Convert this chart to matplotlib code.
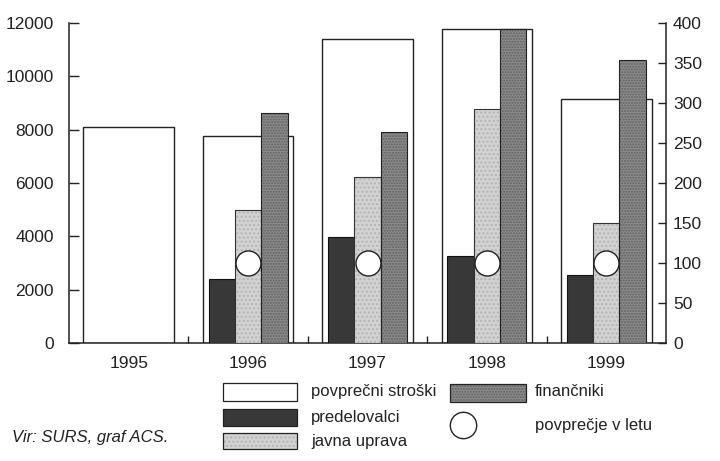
import numpy as np
import matplotlib
matplotlib.use("Agg")
import matplotlib.pyplot as plt
from matplotlib import font_manager
from matplotlib.patches import Rectangle
from matplotlib.lines import Line2D

# ---- data ----
years = ["1995", "1996", "1997", "1998", "1999"]
povprecni_stroski = [8100, 7750, 11400, 11780, 9150]
predelovalci = [np.nan, 80, 132, 109, 85]
javna_uprava = [np.nan, 166, 207, 293, 150]
financniki = [np.nan, 288, 264, 392, 354]
povprecje_v_letu = [np.nan, 100, 100, 100, 100]
left_ticks = [0, 2000, 4000, 6000, 8000, 10000, 12000]
right_ticks = [0, 50, 100, 150, 200, 250, 300, 350, 400]

# ---- font ----
fam = "DejaVu Sans"
narrow = False
for cand in ["Liberation Sans Narrow", "Liberation Sans"]:
    try:
        font_manager.findfont(cand, fallback_to_default=False)
        fam = cand
        narrow = cand.endswith("Narrow")
        break
    except Exception:
        pass
plt.rcParams["font.family"] = [fam, "DejaVu Sans"]
fs = 15 if narrow else 12.5
fs_leg = 14 if narrow else 12

fig = plt.figure(figsize=(7.2, 4.61), dpi=100)
ax = fig.add_axes([69 / 720, 1 - 343 / 461, (666 - 69) / 720, (343 - 23) / 461])
ax2 = ax.twinx()

x = np.arange(len(years))
wb = 0.76
wc = 0.22

ax.bar(x, povprecni_stroski, width=wb, color="white", edgecolor="#222222", linewidth=1.0, zorder=2)

ax2.bar(x - wc, predelovalci, width=wc, color="#383838", edgecolor="#111111", linewidth=0.8, zorder=2)
ax2.bar(x, javna_uprava, width=wc, color="#d2d2d2", edgecolor="#b4b4b4", linewidth=0.0,
        hatch="....", zorder=2)
ax2.bar(x, javna_uprava, width=wc, color="none", edgecolor="#333333", linewidth=0.8, zorder=2.1)
ax2.bar(x + wc, financniki, width=wc, color="#8c8c8c", edgecolor="#606060", linewidth=0.0,
        hatch="......", zorder=2)
ax2.bar(x + wc, financniki, width=wc, color="none", edgecolor="#222222", linewidth=0.8, zorder=2.1)
ax2.plot(x, povprecje_v_letu, linestyle="none", marker="o", markersize=18,
         markerfacecolor="white", markeredgecolor="#222222", markeredgewidth=1.0, zorder=3)

ax.set_xlim(-0.5, 4.5)
ax.set_ylim(0, 12000)
ax2.set_ylim(0, 400)
ax.set_yticks(left_ticks)
ax.set_yticklabels([str(v) for v in left_ticks])
ax2.set_yticks(right_ticks)
ax2.set_yticklabels([str(v) for v in right_ticks])
ax.set_xticks(x)
ax.set_xticklabels(years)
ax.set_xticks(x[:-1] + 0.5, minor=True)

for a in (ax, ax2):
    a.spines["top"].set_visible(False)
    for s in a.spines.values():
        s.set_linewidth(1.1)
        s.set_color("#222222")
ax.spines["right"].set_visible(False)
ax2.spines["left"].set_visible(False)
ax2.spines["bottom"].set_visible(False)

ax.tick_params(axis="y", direction="in", length=7, width=1.0, pad=11, labelsize=fs, colors="#222222")
ax.tick_params(axis="x", which="major", length=0, pad=9, labelsize=fs, colors="#222222")
ax.tick_params(axis="x", which="minor", direction="in", length=5, width=1.0, colors="#222222")
ax2.tick_params(axis="y", direction="in", length=6, width=1.0, pad=5, labelsize=fs, colors="#222222")

# ---- legend (manual) ----
def fx(px):
    return px / 720

def fy(py):
    return 1 - py / 461

def box(x0, x1, y0, y1, fc, ec="#222222", hatch=None, lw=0.9):
    r = Rectangle((fx(x0), fy(y1)), fx(x1) - fx(x0), fy(y0) - fy(y1), transform=fig.transFigure,
                  facecolor=fc, edgecolor=ec, linewidth=lw, hatch=hatch)
    fig.add_artist(r)

box(223, 297, 383, 401, "white")
box(223, 297, 409, 426, "#383838")
box(223, 297, 433, 449, "#d2d2d2", ec="#b4b4b4", hatch="....", lw=0)
box(223, 297, 433, 449, "none")
box(450, 526, 384, 402, "#8c8c8c", ec="#606060", hatch="......", lw=0)
box(450, 526, 384, 402, "none")
fig.add_artist(Line2D([fx(463)], [fy(425)], transform=fig.transFigure, linestyle="none", marker="o",
                      markersize=19, markerfacecolor="white", markeredgecolor="#222222",
                      markeredgewidth=1.0))

tkw = dict(fontsize=fs_leg, va="center", ha="left", color="#222222")
fig.text(fx(311), fy(391), "povprečni stroški", **tkw)
fig.text(fx(311), fy(417), "predelovalci", **tkw)
fig.text(fx(311), fy(441), "javna uprava", **tkw)
fig.text(fx(535), fy(391), "finančniki", **tkw)
fig.text(fx(535), fy(425), "povprečje v letu", **tkw)
fig.text(fx(12), fy(437), "Vir: SURS, graf ACS.", style="italic", **tkw)

fig.savefig("out.png", dpi=100)
